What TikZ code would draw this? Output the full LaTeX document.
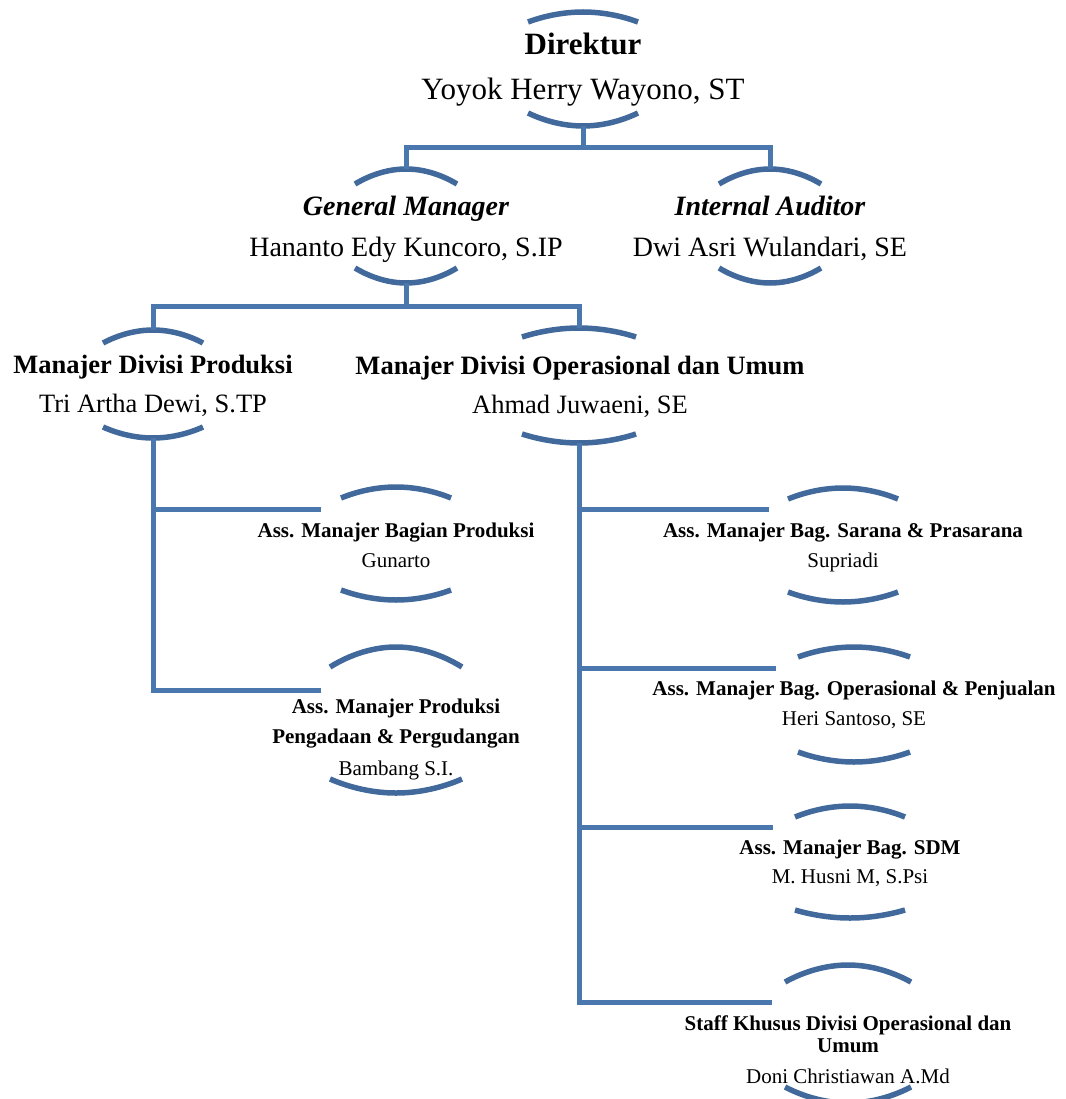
\documentclass[tikz,border=0pt]{standalone}
\usepackage{fontspec}
\setmainfont{Liberation Serif}
\definecolor{linkblue}{HTML}{4A77AD}
\definecolor{arcblue}{HTML}{41699B}

% two arcs round a box: name, x, top apex, top sag, bottom apex, bottom sag, half width
\newcommand{\arcpair}[7]{%
\coordinate (#1-top) at (#2,#3);
\coordinate (#1-bot) at (#2,#5);
\draw[arcline] (#2-#7,#3+#4) parabola bend (#2,#3) (#2+#7,#3+#4);
\draw[arcline] (#2-#7,#5-#6) parabola bend (#2,#5) (#2+#7,#5-#6);
}

\tikzset{
  arcline/.style={draw=arcblue, line width=5.5pt},
  linkline/.style={draw=linkblue, line width=5pt},
  headone/.style={anchor=base, font=\fontsize{31}{36}\selectfont\bfseries},
  nameone/.style={anchor=base, font=\fontsize{31}{36}\selectfont},
  headtwo/.style={anchor=base, font=\fontsize{28}{32}\selectfont\bfseries\itshape},
  nametwo/.style={anchor=base, font=\fontsize{28}{32}\selectfont},
  headthree/.style={anchor=base, font=\fontsize{26.5}{30}\selectfont\bfseries},
  namethree/.style={anchor=base, font=\fontsize{26.5}{30}\selectfont},
  headfour/.style={anchor=base, font=\fontsize{21}{24}\selectfont\bfseries},
  namefour/.style={anchor=base, font=\fontsize{21}{24}\selectfont},
}

\begin{document}
\begin{tikzpicture}[x=1pt,y=-1pt]
\useasboundingbox (0,0) rectangle (1065,1099);

% arcs
\arcpair{dir}{583}{12}{10}{126}{13}{55}
\arcpair{gm}{406}{169}{15}{283}{15}{51}
\arcpair{ia}{770}{169}{15}{283}{15}{51}
\arcpair{mdp}{153}{330}{13}{438}{11}{50}
\arcpair{mdo}{579}{328}{9}{443}{9}{57}
\arcpair{amp}{396}{487}{11}{600}{10}{55}
\arcpair{ampp}{396}{647}{20}{793}{14}{66}
\arcpair{sarana}{843}{488}{11}{602}{10}{55}
\arcpair{ops}{854}{647}{10}{762}{10}{56}
\arcpair{sdm}{850}{806}{11}{918}{8}{55}
\arcpair{staff}{848}{965}{17}{1103}{16}{63}

% texts
\node[headone] (dir-title) at (583,55) {Direktur};
\node[nameone] (dir-name) at (583,100) {Yoyok Herry Wayono, ST};

\node[headtwo] (gm-title) at (406,216) {General Manager};
\node[nametwo] (gm-name) at (406,256) {Hananto Edy Kuncoro, S.IP};
\node[headtwo] (ia-title) at (770,216) {Internal Auditor};
\node[nametwo] (ia-name) at (770,256) {Dwi Asri Wulandari, SE};

\node[headthree] (mdp-title) at (153,373) {Manajer Divisi Produksi};
\node[namethree] (mdp-name) at (153,412) {Tri Artha Dewi, S.TP};
\node[headthree] (mdo-title) at (580,374) {Manajer Divisi Operasional dan Umum};
\node[namethree] (mdo-name) at (580,413) {Ahmad Juwaeni, SE};

\node[headfour] (amp-title) at (396,537) {Ass. Manajer Bagian Produksi};
\node[namefour] (amp-name) at (396,567) {Gunarto};
\node[headfour] (ampp-title) at (396,713) {Ass. Manajer Produksi};
\node[headfour] (ampp-title2) at (396,743) {Pengadaan \& Pergudangan};
\node[namefour] (ampp-name) at (396,775) {Bambang S.I.};

\node[headfour] (sarana-title) at (843,537) {Ass. Manajer Bag. Sarana \& Prasarana};
\node[namefour] (sarana-name) at (843,567) {Supriadi};
\node[headfour] (ops-title) at (854,695) {Ass. Manajer Bag. Operasional \& Penjualan};
\node[namefour] (ops-name) at (854,725) {Heri Santoso, SE};
\node[headfour] (sdm-title) at (850,854) {Ass. Manajer Bag. SDM};
\node[namefour] (sdm-name) at (850,883) {M. Husni M, S.Psi};
\node[headfour] (staff-title) at (848,1030) {Staff Khusus Divisi Operasional dan};
\node[headfour] (staff-title2) at (848,1052) {Umum};
\node[namefour] (staff-name) at (848,1083) {Doni Christiawan A.Md};

% connectors
\coordinate (dir-split) at (583,148);
\coordinate (gm-split) at (406,306);
\coordinate (amp-end) at (321,509);
\coordinate (ampp-end) at (321,690);
\coordinate (sarana-end) at (769,509);
\coordinate (ops-end) at (776,668);
\coordinate (sdm-end) at (773,827);
\coordinate (staff-end) at (772,1002);

\draw[linkline] (dir-bot) -- (dir-split) -| (gm-top);
\draw[linkline] (dir-split) -| (ia-top);
\draw[linkline] (gm-bot) -- (gm-split) -| (mdp-top);
\draw[linkline] (gm-split) -| (mdo-top);
\draw[linkline] (mdp-bot) |- (ampp-end);
\draw[linkline] (mdp-bot) |- (amp-end);
\draw[linkline] (mdo-bot) |- (staff-end);
\draw[linkline] (mdo-bot) |- (sarana-end);
\draw[linkline] (mdo-bot) |- (ops-end);
\draw[linkline] (mdo-bot) |- (sdm-end);

\end{tikzpicture}
\end{document}
